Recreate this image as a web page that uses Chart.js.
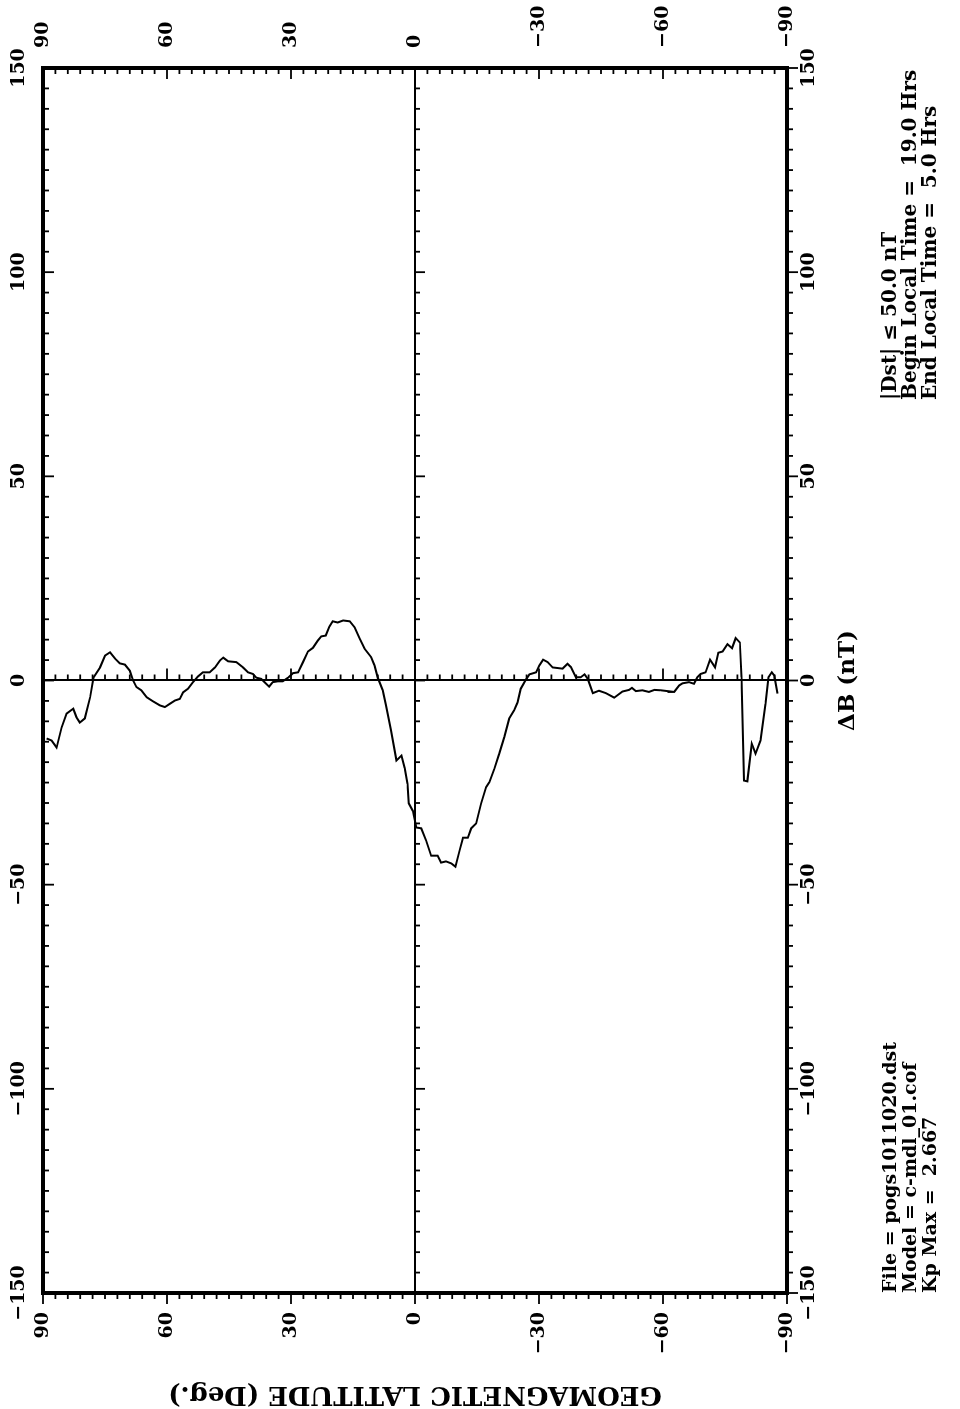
<!DOCTYPE html>
<html><head><meta charset="utf-8">
<script src="https://cdn.jsdelivr.net/npm/chart.js@4"></script>
<style>
html,body{margin:0;padding:0;background:#fff;overflow:hidden;width:960px;height:1409px;}
#wrap{position:absolute;left:0;top:0;width:1409px;height:960px;transform-origin:0 0;transform:translateY(1409px) rotate(-90deg);}
canvas{display:block;}
</style></head><body>
<div id="wrap"><canvas id="c" width="1409" height="960"></canvas></div>
<script>
// ---- data ----
const latMin = -90, latMax = 90, dBMin = -150, dBMax = 150;
const latTicks = [-90, -60, -30, 0, 30, 60, 90];
const latTickLabels = ['\u221290', '\u221260', '\u221230', '0', '30', '60', '90'];
const dBTicks = [-150, -100, -50, 0, 50, 100, 150];
const dBTickLabels = ['\u2212150', '\u2212100', '\u221250', '0', '50', '100', '150'];
const latMinorStep = 3, dBMinorStep = 5;
const latitude = [89.1,87.9,86.7,85.5,84.3,82.7,81.9,81.1,79.9,78.6,77.8,76.2,75.0,73.8,72.6,71.4,70.2,69.0,68.2,67.4,66.2,64.9,63.4,61.7,60.5,59.3,58.1,56.9,56.1,54.9,53.7,52.5,51.3,49.7,48.4,47.2,46.4,45.2,43.2,41.6,40.4,39.2,38.4,37.2,36.4,35.3,34.4,33.2,32.0,30.7,29.5,28.3,27.1,25.9,24.7,23.5,22.7,21.6,20.7,19.9,18.7,17.4,15.8,14.6,13.4,12.2,10.6,9.8,9.0,7.8,7.0,5.8,4.5,3.3,2.5,1.8,1.5,0.5,-0.3,-1.5,-2.7,-3.9,-5.5,-6.3,-7.5,-8.8,-9.8,-10.8,-11.6,-12.8,-13.6,-14.8,-16.0,-17.2,-18.0,-19.2,-20.4,-21.6,-22.8,-24.0,-24.8,-25.6,-26.7,-27.7,-29.3,-30.1,-31.0,-32.1,-33.3,-35.7,-36.9,-37.7,-38.9,-40.1,-41.0,-41.8,-43.0,-44.5,-46.2,-48.2,-50.2,-51.8,-52.5,-53.4,-55.0,-56.6,-57.9,-59.5,-61.1,-62.7,-63.9,-64.7,-66.3,-67.5,-68.3,-69.1,-70.3,-71.4,-72.6,-73.4,-74.4,-75.6,-76.7,-77.6,-78.6,-79.0,-79.6,-80.4,-81.5,-82.4,-83.6,-84.8,-85.5,-86.3,-86.9,-87.7];
const deltaB = [-14.2,-14.7,-16.4,-11.5,-8.1,-6.9,-9.0,-10.3,-9.3,-4.1,0.7,3.2,6.1,6.9,5.4,4.2,3.9,2.4,0.0,-1.6,-2.4,-4.1,-5.1,-6.1,-6.5,-5.7,-4.9,-4.5,-2.9,-2.0,-0.4,1.0,2.0,2.0,3.2,4.9,5.6,4.7,4.5,3.2,2.0,1.6,0.7,0.4,-0.4,-1.5,-0.4,-0.2,-0.2,0.7,1.8,2.0,4.5,7.1,8.0,9.8,10.8,11.0,13.2,14.5,14.2,14.7,14.5,13.0,10.3,7.8,5.7,3.7,0.7,-2.4,-6.1,-12.2,-19.6,-18.4,-21.5,-25.3,-30.1,-32.0,-36.0,-36.2,-39.2,-42.9,-42.9,-44.6,-44.3,-44.8,-45.6,-41.6,-38.5,-38.5,-36.2,-35.0,-30.1,-26.1,-24.9,-21.6,-17.9,-13.9,-9.3,-7.3,-5.4,-2.0,0.0,1.5,2.0,3.7,5.1,4.5,3.2,2.9,4.1,3.3,0.8,0.8,1.5,0.4,-3.1,-2.5,-3.1,-4.2,-2.7,-2.3,-1.8,-2.6,-2.4,-2.8,-2.3,-2.4,-2.6,-2.8,-1.2,-0.7,-0.4,-0.8,0.8,1.6,2.0,5.1,3.2,6.8,7.1,8.9,7.9,10.4,9.3,0.8,-24.5,-24.7,-15.5,-17.9,-14.7,-5.7,0.8,2.0,1.2,-3.2];
const infoLeft = ['File = pogs1011020.dst', 'Model = c-mdl_01.cof', 'Kp Max =  2.667'];
const infoRight = ['|Dst| \u2264 50.0 nT', 'Begin Local Time =  19.0 Hrs', 'End Local Time =  5.0 Hrs'];
const xTitle = '\u0394B (nT)';
const yTitle = 'GEOMAGNETIC LATITUDE (Deg.)';

// ---- styles ----
const SERIF = '"DejaVu Serif", "Liberation Serif", serif';
const tickFont = {family: SERIF, weight: 'bold', size: 19};
const zeroGrid = c => (c.tick && c.tick.value === 0) ? '#000' : 'rgba(0,0,0,0)';

const decorations = {
  id: 'decorations',
  afterDraw(chart) {
    const {ctx, chartArea: a, scales} = chart;
    const x = scales.x, y = scales.y;
    const seg = (x1, y1, x2, y2) => { ctx.beginPath(); ctx.moveTo(x1, y1); ctx.lineTo(x2, y2); ctx.stroke(); };
    ctx.save();
    ctx.strokeStyle = '#000';
    ctx.lineCap = 'butt';
    ctx.lineWidth = 4;
    ctx.strokeRect(a.left, a.top, a.right - a.left, a.bottom - a.top);
    ctx.lineWidth = 1.8;
    const y0 = y.getPixelForValue(0);
    const x0 = x.getPixelForValue(0);
    for (let v = dBMin; v <= dBMax; v += dBMinorStep) {
      const px = x.getPixelForValue(v);
      const major = v % 50 === 0;
      const len = major ? 11 : 6;
      seg(px, a.top, px, a.top + len);
      seg(px, a.bottom, px, a.bottom + len);
      seg(px, y0, px, y0 + (major ? 10 : 5));
    }
    for (let v = latMin; v <= latMax; v += latMinorStep) {
      const py = y.getPixelForValue(v);
      const major = v % 30 === 0;
      const len = major ? 11 : 6;
      seg(a.left, py, a.left - len, py);
      seg(a.right, py, a.right - len, py);
      seg(x0, py, x0 + (major ? 12 : 6), py);
    }
    ctx.fillStyle = '#000';
    ctx.textBaseline = 'middle';
    ctx.textAlign = 'left';
    const lineY = [a.bottom + 104, a.bottom + 124, a.bottom + 144];
    ctx.font = 'bold 19px ' + SERIF;
    infoLeft.forEach((t, i) => ctx.fillText(t, a.left, lineY[i]));
    ctx.font = 'bold 20px ' + SERIF;
    infoRight.forEach((t, i) => ctx.fillText(t, a.left + 893, lineY[i]));
    ctx.restore();
  }
};

const common = (ticks, labels, pad) => ({
  afterBuildTicks: s => { s.ticks = ticks.map(v => ({value: v})); },
  ticks: {callback: v => labels[ticks.indexOf(v)], font: tickFont, color: '#000', maxRotation: 0, autoSkip: false, padding: pad},
  border: {display: false}
});

new Chart(document.getElementById('c'), {
  type: 'scatter',
  data: {
    datasets: [{
      data: latitude.map((lat, i) => ({x: deltaB[i], y: lat})),
      showLine: true, borderColor: '#000', borderWidth: 2, pointRadius: 0, tension: 0
    }]
  },
  options: {
    responsive: false, animation: false, devicePixelRatio: 1,
    layout: {padding: {left: 0, right: 0, top: 0, bottom: 83}},
    plugins: {legend: {display: false}, tooltip: {enabled: false}},
    scales: {
      x: Object.assign(common(dBTicks, dBTickLabels, 11), {
        type: 'linear', position: 'bottom', min: dBMin, max: dBMax,
        grid: {drawTicks: false, color: zeroGrid, lineWidth: 2},
        title: {display: true, text: xTitle, font: {family: SERIF, weight: 'bold', size: 23}, color: '#000', padding: {top: 0, bottom: 15}},
        afterFit: s => { s.height = 90; }
      }),
      x2: Object.assign(common(dBTicks, dBTickLabels, 13), {
        type: 'linear', position: 'top', min: dBMin, max: dBMax,
        grid: {drawTicks: false, drawOnChartArea: false, color: 'rgba(0,0,0,0)'},
        afterFit: s => { s.height = 43; }
      }),
      y: Object.assign(common(latTicks, latTickLabels, 19), {
        type: 'linear', position: 'left', min: latMin, max: latMax,
        grid: {drawTicks: false, color: zeroGrid, lineWidth: 2},
        title: {display: true, text: yTitle, font: {family: SERIF, weight: 'bold', size: 26}, color: '#000', padding: {top: 0, bottom: 0}},
        afterFit: s => { s.width = 116; }
      }),
      y2: Object.assign(common(latTicks, latTickLabels, 20), {
        type: 'linear', position: 'right', min: latMin, max: latMax,
        grid: {drawTicks: false, drawOnChartArea: false, color: 'rgba(0,0,0,0)'},
        afterFit: s => { s.width = 68; }
      })
    }
  },
  plugins: [decorations]
});
</script>
</body></html>
